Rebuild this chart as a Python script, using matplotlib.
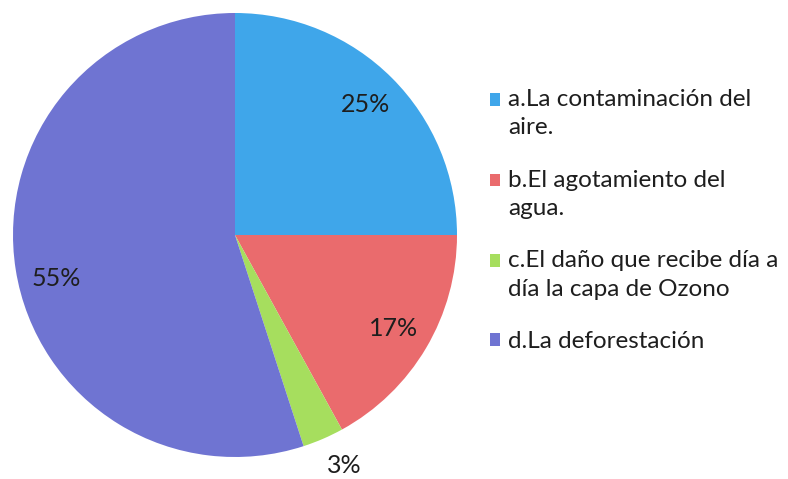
import matplotlib.pyplot as plt
from matplotlib.patches import Rectangle
from matplotlib.legend_handler import HandlerPatch
import numpy as np

plt.rcParams['font.family'] = ['Lato', 'DejaVu Sans']

labels = ['a.La contaminación del\naire.', 'b.El agotamiento del\nagua.',
          'c.El daño que recibe día a\ndía la capa de Ozono', 'd.La deforestación']
values = [25, 17, 3, 55]
colors = ['#3FA6EA', '#EA6B6D', '#A6DE5E', '#6F74D2']
FS = 17.5
LS = 1.42

fig = plt.figure(figsize=(7.88, 4.79), dpi=100)
ax = fig.add_axes([13 / 788, 22 / 479, 444 / 788, 444 / 479])

wedges, texts, pcts = ax.pie(values, colors=colors, startangle=90, counterclock=False,
                             autopct='%1.0f%%', pctdistance=0.83,
                             wedgeprops=dict(linewidth=0),
                             textprops=dict(fontsize=18, color='#1e1e1e'))
# small slice label sits outside, big one a bit lower like the original
w = wedges[2]
ang = np.deg2rad((w.theta1 + w.theta2) / 2 + 2)
pcts[2].set_position((1.15 * np.cos(ang), 1.15 * np.sin(ang)))
w = wedges[3]
ang = np.deg2rad((w.theta1 + w.theta2) / 2 + 4.5)
pcts[3].set_position((0.83 * np.cos(ang), 0.83 * np.sin(ang)))
ax.set_xlim(-1, 1)
ax.set_ylim(-1, 1)


# put the square next to the first line of a multi-line label
def top_square(legend, orig_handle, xdescent, ydescent, width, height, fontsize):
    return Rectangle((-xdescent, -ydescent), width, height)


class FirstLineHandler(HandlerPatch):
    def __init__(self, nlines):
        super().__init__(patch_func=top_square)
        self.nlines = nlines

    def create_artists(self, legend, orig_handle, xdescent, ydescent, width, height,
                       fontsize, trans):
        shift = 0.5 * LS * 0.82 * fontsize * (self.nlines - 1)
        return super().create_artists(legend, orig_handle, xdescent, ydescent - shift,
                                      width, height, fontsize, trans)


hmap = {wd: FirstLineHandler(lab.count('\n') + 1) for wd, lab in zip(wedges, labels)}
leg = fig.legend(wedges, labels, loc='upper left', bbox_to_anchor=(490 / 788, 1 - 89 / 479),
                 frameon=False, fontsize=FS, handlelength=0.42, handleheight=0.42,
                 handletextpad=0.34, labelspacing=1.3, borderpad=0, borderaxespad=0,
                 handler_map=hmap)
for t in leg.get_texts():
    t.set_color('#1e1e1e')
    t.set_linespacing(LS)

fig.savefig('out.png', dpi=100)
